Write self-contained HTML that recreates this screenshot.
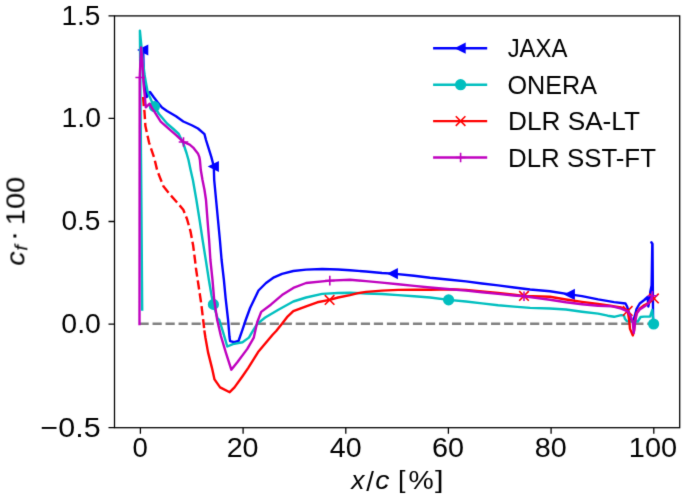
<!DOCTYPE html>
<html><head><meta charset="utf-8"><title>cf distribution</title>
<style>html,body{margin:0;padding:0;background:#fff;}svg{display:block;}</style></head>
<body><svg width="685" height="499" viewBox="0 0 685 499" font-family='"Liberation Sans", sans-serif'>
<defs><filter id="bl" color-interpolation-filters="sRGB" x="0" y="0" width="685" height="499" filterUnits="userSpaceOnUse"><feConvolveMatrix order="3" kernelMatrix="0.01134 0.08382 0.01134 0.08382 0.61935 0.08382 0.01134 0.08382 0.01134" edgeMode="duplicate" preserveAlpha="false"/></filter></defs>
<rect width="685" height="499" fill="#fff"/>
<g filter="url(#bl)">
<line x1="139.5" y1="323.7" x2="653.8" y2="323.7" stroke="#808080" stroke-width="2.4" stroke-dasharray="9.2 3.82"/>
<polyline points="143.20,50.00 143.60,70.00 145.30,88.00 146.70,97.00 150.00,92.00 153.60,97.00 157.80,102.50 162.00,107.50 167.00,111.00 176.00,116.30 183.30,121.50 192.30,125.50 198.00,128.50 204.50,134.20 206.00,140.00 208.40,147.60 211.30,156.90 213.80,166.50 214.20,180.00 216.10,200.00 218.00,220.00 219.90,240.00 221.60,260.00 223.90,280.00 225.60,298.00 228.10,320.00 229.50,337.00 230.10,341.10 234.10,342.10 238.50,341.00 242.50,329.60 245.70,320.00 250.10,308.00 258.50,290.50 266.00,283.00 274.00,277.30 282.00,273.80 293.30,271.00 306.10,269.60 322.10,269.00 338.10,269.50 350.00,270.20 366.00,271.50 382.00,273.00 392.80,273.60 414.10,275.80 430.10,277.80 450.00,279.70 466.00,281.40 482.00,283.50 498.10,285.40 514.10,287.50 530.10,289.50 550.00,291.30 569.80,294.40 582.00,296.10 598.10,299.40 614.10,302.10 625.50,303.50 627.20,306.80 629.30,314.00 631.70,321.00 633.20,321.00 635.70,312.70 636.50,309.00 639.70,303.50 644.30,300.00 647.60,297.00 648.30,306.50 649.50,301.00 650.30,292.00 651.60,285.50 652.30,243.50 651.30,242.30 652.50,244.00 653.10,322.00" fill="none" stroke="#0000ff" stroke-width="2.4" stroke-linejoin="round" stroke-linecap="square"/>
<polygon points="138.90,50.00 147.50,45.70 147.50,54.30" fill="#0000ff" stroke="#0000ff" stroke-width="1.6" stroke-linejoin="miter"/>
<polygon points="209.50,166.50 218.10,162.20 218.10,170.80" fill="#0000ff" stroke="#0000ff" stroke-width="1.6" stroke-linejoin="miter"/>
<polygon points="388.50,273.60 397.10,269.30 397.10,277.90" fill="#0000ff" stroke="#0000ff" stroke-width="1.6" stroke-linejoin="miter"/>
<polygon points="565.50,294.40 574.10,290.10 574.10,298.70" fill="#0000ff" stroke="#0000ff" stroke-width="1.6" stroke-linejoin="miter"/>
<polyline points="142.20,309.50 141.20,180.00 139.90,30.60 141.30,45.00 143.00,62.00 144.60,75.00 145.80,82.00 147.60,91.60 150.00,97.60 152.20,102.50 154.40,106.60 159.00,114.00 167.00,123.50 173.40,129.00 178.80,134.00 183.30,143.50 186.50,153.00 188.50,160.00 190.60,170.00 192.90,180.00 196.40,200.00 199.60,220.00 202.60,240.00 205.80,260.00 208.90,280.00 211.60,296.00 213.40,304.40 217.60,318.50 219.30,320.00 223.30,332.80 227.30,346.50 232.90,344.10 242.50,342.30 248.90,337.60 252.10,332.10 257.20,323.90 265.20,317.50 278.80,309.50 293.30,301.50 306.10,297.50 322.10,293.90 338.10,293.00 350.00,292.70 366.00,293.50 382.00,294.00 398.10,295.10 414.10,296.30 430.10,297.50 448.60,299.90 466.00,301.50 482.00,303.40 498.10,305.20 514.10,306.60 530.10,307.90 550.00,308.50 566.00,309.50 582.00,311.70 598.10,313.60 607.70,315.70 614.10,316.80 621.20,315.10 624.00,315.50 624.90,318.80 626.80,321.10 630.50,321.50 634.10,321.50 637.80,321.50 640.60,317.00 644.00,316.60 650.00,316.60 652.30,310.00 653.60,324.00" fill="none" stroke="#00bfbf" stroke-width="2.4" stroke-linejoin="round" stroke-linecap="square"/>
<circle cx="154.40" cy="106.60" r="4.80" fill="#00bfbf" stroke="#00bfbf" stroke-width="1.6"/>
<circle cx="213.40" cy="304.40" r="4.80" fill="#00bfbf" stroke="#00bfbf" stroke-width="1.6"/>
<circle cx="448.60" cy="299.90" r="4.80" fill="#00bfbf" stroke="#00bfbf" stroke-width="1.6"/>
<circle cx="653.60" cy="324.00" r="4.80" fill="#00bfbf" stroke="#00bfbf" stroke-width="1.6"/>
<polyline points="143.10,97.00 143.70,105.00 144.50,112.00 145.40,126.00 149.00,142.30 154.40,158.50 157.10,170.00 159.80,177.20 163.40,186.20 170.70,195.30 177.90,203.40 183.30,209.70 186.90,218.70 190.50,231.30 193.20,245.80 195.00,260.00 195.90,268.00 198.60,286.00 201.30,304.10 203.20,320.00 204.30,330.00" fill="none" stroke="#ff0000" stroke-width="2.4" stroke-linejoin="round" stroke-linecap="butt" stroke-dasharray="9.2 3.82"/>
<polyline points="204.50,331.50 205.50,338.00 208.00,352.10 212.00,368.10 214.50,379.40 220.10,387.40 229.70,392.20 234.50,387.40 242.50,376.20 248.10,368.10 258.10,352.10 268.20,340.10 272.40,335.00 276.20,331.00 282.00,323.70 287.00,317.20 293.30,311.10 306.10,306.30 317.30,302.30 329.60,299.90 338.10,297.50 350.00,295.10 358.00,293.10 366.00,291.90 382.00,290.60 398.10,289.90 414.10,289.60 430.10,289.80 450.00,289.30 466.00,289.90 482.00,291.50 498.10,293.00 514.10,294.70 524.00,295.90 550.00,296.80 566.00,299.50 582.00,301.90 598.10,304.00 612.00,306.00 621.20,307.50 627.70,310.90 629.10,319.70 630.00,328.90 632.80,335.40 634.10,330.70 635.10,319.70 636.40,313.20 639.70,308.60 644.10,305.30 648.90,302.90 653.90,298.40" fill="none" stroke="#ff0000" stroke-width="2.4" stroke-linejoin="round" stroke-linecap="square"/>
<path d="M324.80 295.10L334.40 304.70M324.80 304.70L334.40 295.10" stroke="#ff0000" stroke-width="1.6" stroke-linecap="butt"/>
<path d="M519.20 291.10L528.80 300.70M519.20 300.70L528.80 291.10" stroke="#ff0000" stroke-width="1.6" stroke-linecap="butt"/>
<path d="M622.90 306.10L632.50 315.70M622.90 315.70L632.50 306.10" stroke="#ff0000" stroke-width="1.6" stroke-linecap="butt"/>
<path d="M649.10 293.60L658.70 303.20M649.10 303.20L658.70 293.60" stroke="#ff0000" stroke-width="1.6" stroke-linecap="butt"/>
<polyline points="139.50,324.00 139.70,77.50 141.10,47.40 142.30,60.00 143.40,82.00 144.90,97.60 145.80,107.30 149.70,103.70 151.80,107.90 154.40,111.60 160.70,121.60 168.90,128.80 176.10,135.10 183.50,142.00 189.70,144.70 193.20,147.60 195.50,150.50 197.90,153.40 199.30,156.90 199.90,160.00 200.80,170.00 202.50,180.00 204.50,190.00 206.00,200.00 207.50,220.00 209.10,240.00 210.40,260.00 212.50,280.00 214.20,300.00 217.20,320.00 220.90,336.00 225.70,352.10 231.30,369.70 237.70,361.70 247.30,348.90 253.80,337.60 257.20,322.30 261.20,311.90 270.80,304.70 282.00,295.10 293.30,287.90 306.10,283.00 329.80,280.60 350.00,279.80 366.00,281.10 382.00,282.60 398.10,284.30 414.10,285.90 430.10,287.50 450.00,289.20 466.00,290.60 482.00,292.20 498.10,293.90 514.10,295.50 524.00,296.30 550.00,299.80 566.00,302.30 582.00,304.20 598.10,305.80 612.00,306.30 621.20,308.60 627.70,311.40 630.50,316.00 632.80,322.40 633.70,333.00 635.50,319.70 636.90,313.20 639.70,309.50 644.00,306.80 647.70,304.10 650.50,300.00 652.40,295.80" fill="none" stroke="#bf00bf" stroke-width="2.4" stroke-linejoin="round" stroke-linecap="square"/>
<path d="M135.40 77.50H145.00M140.20 72.70V82.30" stroke="#bf00bf" stroke-width="1.6" stroke-linecap="butt"/>
<path d="M178.70 142.00H188.30M183.50 137.20V146.80" stroke="#bf00bf" stroke-width="1.6" stroke-linecap="butt"/>
<path d="M325.00 280.60H334.60M329.80 275.80V285.40" stroke="#bf00bf" stroke-width="1.6" stroke-linecap="butt"/>
<path d="M519.20 296.30H528.80M524.00 291.50V301.10" stroke="#bf00bf" stroke-width="1.6" stroke-linecap="butt"/>
<path d="M647.60 295.80H657.20M652.40 291.00V300.60" stroke="#bf00bf" stroke-width="1.6" stroke-linecap="butt"/>
<rect x="114.5" y="15.9" width="565.20" height="411.80" fill="none" stroke="#000" stroke-width="1.28" stroke-linejoin="miter"/>
<path d="M108.50 15.9H114.5M108.50 118.3H114.5M108.50 221.5H114.5M108.50 324.1H114.5M108.50 427.7H114.5M140.4 427.7V433.70M243.1 427.7V433.70M345.8 427.7V433.70M448.4 427.7V433.70M551.1 427.7V433.70M653.8 427.7V433.70" stroke="#000" stroke-width="1.28"/>
<line x1="434.3" y1="48.2" x2="486.0" y2="48.2" stroke="#0000ff" stroke-width="2.4" stroke-linecap="square"/>
<polygon points="456.30,48.20 464.90,43.90 464.90,52.50" fill="#0000ff" stroke="#0000ff" stroke-width="1.6" stroke-linejoin="miter"/>
<line x1="434.3" y1="84.7" x2="486.0" y2="84.7" stroke="#00bfbf" stroke-width="2.4" stroke-linecap="square"/>
<circle cx="460.60" cy="84.70" r="4.80" fill="#00bfbf" stroke="#00bfbf" stroke-width="1.6"/>
<line x1="434.3" y1="121.1" x2="486.0" y2="121.1" stroke="#ff0000" stroke-width="2.4" stroke-linecap="square"/>
<path d="M455.80 116.30L465.40 125.90M455.80 125.90L465.40 116.30" stroke="#ff0000" stroke-width="1.6" stroke-linecap="butt"/>
<line x1="434.3" y1="157.5" x2="486.0" y2="157.5" stroke="#bf00bf" stroke-width="2.4" stroke-linecap="square"/>
<path d="M455.80 157.50H465.40M460.60 152.70V162.30" stroke="#bf00bf" stroke-width="1.6" stroke-linecap="butt"/>
<g fill="#000"><text transform="translate(61.50 24.79) scale(1.0301 1)" font-size="27.18">1.5</text><text transform="translate(61.47 127.19) scale(1.0410 1)" font-size="27.27">1.0</text><text transform="translate(61.38 230.39) scale(1.0300 1)" font-size="27.27">0.5</text><text transform="translate(61.36 332.99) scale(1.0440 1)" font-size="27.27">0.0</text><text transform="translate(40.58 436.59) scale(1.1156 1)" font-size="27.27">−0.5</text><text transform="translate(132.45 457.39) scale(1.0107 1)" font-size="27.27">0</text><text transform="translate(226.65 457.39) scale(1.0529 1)" font-size="27.27">20</text><text transform="translate(329.75 457.39) scale(1.0500 1)" font-size="27.27">40</text><text transform="translate(431.90 457.39) scale(1.0561 1)" font-size="27.27">60</text><text transform="translate(534.72 457.39) scale(1.0529 1)" font-size="27.27">80</text><text transform="translate(628.82 457.39) scale(1.0615 1)" font-size="27.27">100</text><text transform="translate(507.64 57.04) scale(0.9063 1)" font-size="26.43">JAXA</text><text transform="translate(507.47 93.74) scale(0.9503 1)" font-size="26.48">ONERA</text><text transform="translate(508.00 130.24) scale(0.9895 1)" font-size="26.48">DLR SA-LT</text><text transform="translate(508.03 166.54) scale(0.9764 1)" font-size="26.48">DLR SST-FT</text><text transform="translate(351.25 489.20) scale(0.9913 1)" font-size="26.60" font-style="italic">x</text><text transform="translate(366.30 490.83) scale(1.0106 1)" font-size="27.35">/</text><text transform="translate(375.31 489.24) scale(1.0829 1)" font-size="26.18" font-style="italic">c</text><text transform="translate(398.11 487.98) scale(1.1527 1)" font-size="23.42">[</text><text transform="translate(408.51 489.17) scale(1.0751 1)" font-size="26.43">%</text><text transform="translate(434.89 487.98) scale(1.3137 1)" font-size="23.42">]</text></g>
<g fill="#000" transform="translate(24.4 266.7) rotate(-90)"><text transform="translate(0.99 0.04) scale(1.1074 1)" font-size="26.00" font-style="italic">c</text><text transform="translate(16.09 3.10) scale(1.1323 1)" font-size="17.93" font-style="italic">f</text><text transform="translate(25.61 -1.60) scale(1.1579 1)" font-size="27.27">·</text><text transform="translate(41.62 -0.06) scale(1.1071 1)" font-size="26.20">100</text></g>
</g>
</svg></body></html>
